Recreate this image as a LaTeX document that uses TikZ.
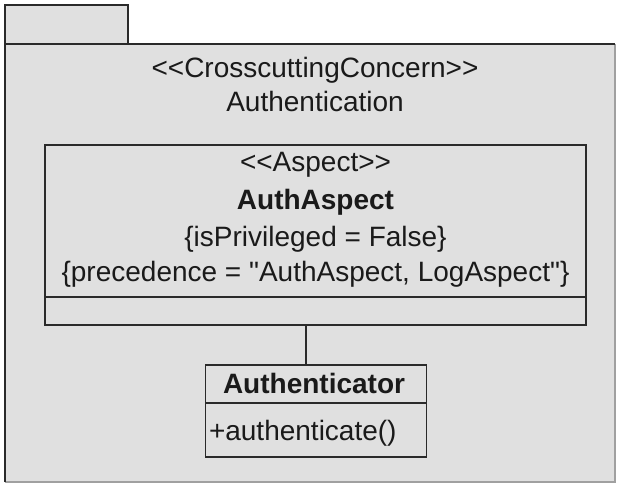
\documentclass[tikz,border=0pt]{standalone}
\usepackage{fontspec}
\setmainfont{Liberation Sans}[Ligatures=TeXOff]
\begin{document}
\begin{tikzpicture}[x=1pt,y=-1pt,
  every node/.style={inner sep=0pt,outer sep=0pt},
  box/.style={draw=lineblack,line width=1.6pt,fill=pkggray,inner sep=0pt},
  txt/.style={font=\fontsize{28}{33}\selectfont,text=textblack,anchor=base},
  btxt/.style={txt,font=\fontsize{28}{33}\selectfont\bfseries},
  link/.style={draw=lineblack,line width=1.6pt}]
\definecolor{pkggray}{HTML}{E0E0E0}
\definecolor{lineblack}{HTML}{2A2A2A}
\definecolor{textblack}{HTML}{1A1A1A}
\definecolor{edgegray}{HTML}{A0A0A0}
\useasboundingbox (0,0) rectangle (617,483);
\fill[white] (0,0) rectangle (617,483);
% package body
\fill[pkggray] (5,44) rectangle (615,482);
\draw[edgegray,line width=1.2pt] (615,44) -- (615,482) -- (5,482);
\draw[lineblack,line width=1.8pt] (5,482) -- (5,44) -- (615,44);
% tab
\node[box,minimum width=123pt,minimum height=39pt] (tab) at (66.5,24.5) {};
\node[txt] (stereo) at (315,77) {<{}<CrosscuttingConcern>{}>};
\node[txt] (pkgname) at (315,111) {Authentication};
% aspect class
\node[box,minimum width=541pt,minimum height=180pt] (aspect) at (315.5,235) {};
\coordinate (asepL) at (45,297);
\coordinate (asepR) at (586,297);
\draw[link] (asepL) -- (asepR);
\node[txt] (astereo) at (315.5,171) {<{}<Aspect>{}>};
\node[btxt] (aname) at (315.5,209) {AuthAspect};
\node[txt] (aprop1) at (315.5,246) {\{isPrivileged = False\}};
\node[txt] (aprop2) at (315.5,281) {\{precedence = "AuthAspect, LogAspect"\}};
% authenticator class
\node[box,minimum width=221pt,minimum height=92pt] (auth) at (316,411) {};
\coordinate (bsepL) at (205.5,403);
\coordinate (bsepR) at (426.5,403);
\draw[link] (bsepL) -- (bsepR);
\node[btxt] (bname) at (314,393) {Authenticator};
\node[txt,anchor=base west] (bop) at (209,440) {+authenticate()};
% connector
\coordinate (ctop) at (306,325);
\draw[link] (ctop) -- (ctop |- auth.north);
\end{tikzpicture}
\end{document}
